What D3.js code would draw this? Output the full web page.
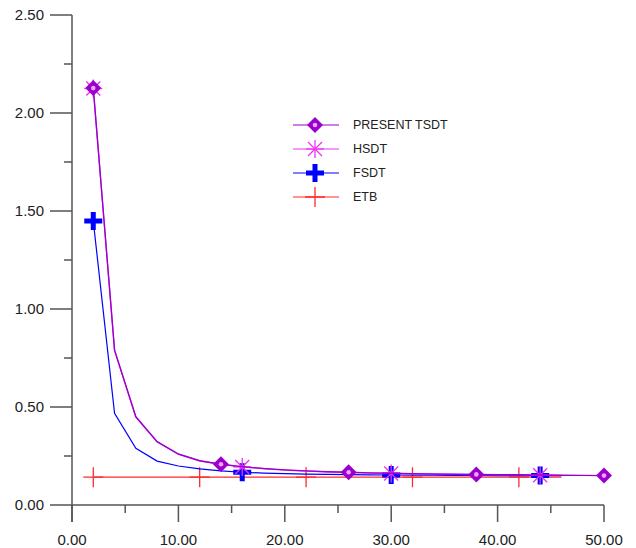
<!DOCTYPE html>
<html>
<head>
<meta charset="utf-8">
<script src="https://cdn.jsdelivr.net/npm/d3@7"></script>
<style>
  body { margin: 0; background: #fff; }
  text { font-family: "Liberation Sans", Arial, sans-serif; }
</style>
</head>
<body>
<svg id="chart" width="636" height="548"></svg>
<script>
// values
const xPresent = [2,4,6,8,10,12,14,16,18,20,22,24,26,28,30,32,34,36,38,40,42,44,46,48,50];
const present  = [2.127,0.79,0.45,0.323,0.26,0.226,0.208,0.196,0.186,0.179,0.174,0.170,0.167,0.164,0.162,0.160,0.158,0.157,0.156,0.155,0.154,0.153,0.152,0.151,0.150];
const xOther   = [2,4,6,8,10,12,14,16,18,20,22,24,26,28,30,32,34,36,38,40,42,44,46];
const hsdt     = [2.125,0.788,0.449,0.322,0.259,0.225,0.207,0.194,0.185,0.178,0.173,0.169,0.166,0.163,0.161,0.159,0.157,0.156,0.155,0.154,0.153,0.152,0.151];
const fsdt     = [1.449,0.468,0.289,0.224,0.199,0.184,0.174,0.167,0.163,0.160,0.158,0.156,0.155,0.154,0.153,0.152,0.152,0.151,0.151,0.150,0.150,0.150,0.150];
const etb      = [0.142,0.142,0.142,0.142,0.142,0.142,0.142,0.142,0.142,0.142,0.142,0.142,0.142,0.142,0.142,0.142,0.142,0.142,0.142,0.142,0.142,0.142,0.142];
const xTicks = [0,10,20,30,40,50];
const yTicks = [0,0.5,1,1.5,2,2.5];

const svg = d3.select("#chart");
const x = d3.scaleLinear().domain([0, 50]).range([72, 604]);
const y = d3.scaleLinear().domain([0, 2.5]).range([505, 15]);

const axisCol = "#555";

// y axis
const yAx = svg.append("g").attr("transform", "translate(72,0)");
yAx.append("line").attr("y1", 15).attr("y2", 522).attr("stroke", axisCol).attr("stroke-width", 1.5);
yAx.selectAll(".minor").data(d3.range(0.25, 2.5, 0.5)).join("line")
  .attr("x1", -8).attr("x2", 0).attr("y1", d => y(d)).attr("y2", d => y(d))
  .attr("stroke", axisCol).attr("stroke-width", 1.5);
yAx.selectAll(".major").data(yTicks).join("line")
  .attr("x1", -22).attr("x2", 0).attr("y1", d => y(d)).attr("y2", d => y(d))
  .attr("stroke", axisCol).attr("stroke-width", 1.5);
yAx.selectAll("text").data(yTicks).join("text")
  .attr("x", -28).attr("y", d => y(d)).attr("dy", "0.35em")
  .attr("text-anchor", "end").attr("font-size", 15).attr("fill", "#222")
  .text(d => d3.format(".2f")(d));

// x axis
const xAx = svg.append("g").attr("transform", "translate(0,505)");
xAx.append("line").attr("x1", 72).attr("x2", 604).attr("stroke", axisCol).attr("stroke-width", 1.5);
xAx.selectAll(".minor").data(d3.range(5, 50, 10)).join("line")
  .attr("x1", d => x(d)).attr("x2", d => x(d)).attr("y1", 0).attr("y2", 8)
  .attr("stroke", axisCol).attr("stroke-width", 1.5);
xAx.selectAll(".major").data(xTicks).join("line")
  .attr("x1", d => x(d)).attr("x2", d => x(d)).attr("y1", 0).attr("y2", 17)
  .attr("stroke", axisCol).attr("stroke-width", 1.5);
xAx.selectAll("text").data(xTicks).join("text")
  .attr("x", d => x(d)).attr("y", 40)
  .attr("text-anchor", "middle").attr("font-size", 15).attr("fill", "#222")
  .text(d => d3.format(".2f")(d));

// marker painters
function diamond(g, col) {
  g.append("path").attr("d", "M0,-8L8,0L0,8L-8,0Z").attr("fill", col);
  g.append("circle").attr("r", 2.3).attr("fill", "#f0a0ff");
}
function asterisk(g, col) {
  [[-9,0,9,0],[0,-9,0,9],[-7,-7,7,7],[-7,7,7,-7]].forEach(s =>
    g.append("line").attr("x1", s[0]).attr("y1", s[1]).attr("x2", s[2]).attr("y2", s[3])
      .attr("stroke", col).attr("stroke-width", 1.3));
}
function boldPlus(g, col) {
  g.append("path").attr("d", "M-9,0H9M0,-9V9").attr("stroke", col).attr("stroke-width", 5);
}
function thinPlus(g, col) {
  g.append("path").attr("d", "M-10,0H10M0,-10V10").attr("stroke", col).attr("stroke-width", 1.3);
}

const series = [
  { name: "ETB", xs: xOther, ys: etb, col: "#ff2a2a", step: 5, mark: thinPlus, lw: 1.2 },
  { name: "FSDT", xs: xOther, ys: fsdt, col: "#0000ff", step: 7, mark: boldPlus, lw: 1.2 },
  { name: "HSDT", xs: xOther, ys: hsdt, col: "#ee33ee", step: 7, mark: asterisk, lw: 1.2 },
  { name: "PRESENT TSDT", xs: xPresent, ys: present, col: "#9900cc", step: 6, mark: diamond, lw: 1.4 }
];

const line = d3.line().x(d => x(d[0])).y(d => y(d[1]));

series.forEach(s => {
  const pts = s.xs.map((v, i) => [v, s.ys[i]]);
  svg.append("path").datum(pts).attr("d", line)
    .attr("fill", "none").attr("stroke", s.col).attr("stroke-width", s.lw);
  pts.filter((d, i) => i % s.step === 0).forEach(d => {
    const g = svg.append("g").attr("transform", `translate(${x(d[0])},${y(d[1])})`);
    s.mark(g, s.col);
  });
});

// legend
const legendOrder = [series[3], series[2], series[1], series[0]];
legendOrder.forEach((s, i) => {
  const ly = 125 + i * 24;
  const g = svg.append("g").attr("transform", `translate(0,${ly})`);
  g.append("line").attr("x1", 293).attr("x2", 339).attr("stroke", s.col).attr("stroke-width", 1);
  s.mark(g.append("g").attr("transform", "translate(315,0)"), s.col);
  g.append("text").attr("x", 353).attr("y", 0).attr("dy", "0.35em")
    .attr("font-size", 12.5).attr("fill", "#222").text(s.name);
});
</script>
</body>
</html>
